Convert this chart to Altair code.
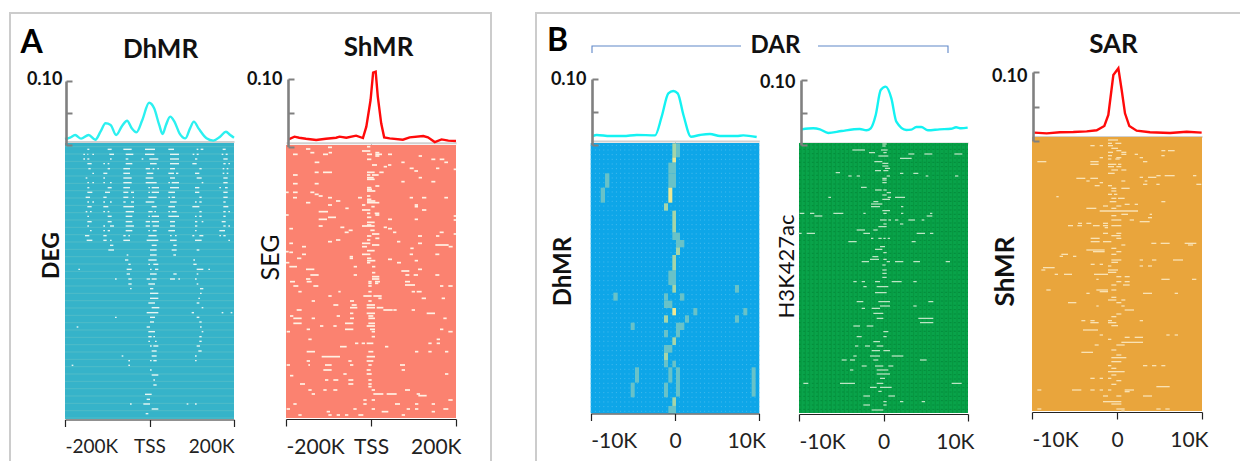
import altair as alt

FONT = "Lato"
W, H = 1232, 453

# ---- profile curves (position along the window, density) ----
P1_X = [-200,-188,-176,-162,-144,-128,-116,-104,-92,-79,-65,-53,-42,-31,-17,-1,11,23,31,39,49,59,71,85,96,105,116,135,151,167,181,191,200]
P1_Y = [.0094,.0115,.0156,.0099,.0156,.0083,.0208,.0339,.0313,.0156,.0297,.038,.026,.0198,.0391,.0661,.0573,.0313,.0172,.0313,.0443,.0365,.0182,.0104,.026,.0365,.026,.0104,.0068,.013,.0208,.0156,.0115]
P2_X = [-194,-180,-169,-153,-129,-106,-82,-74,-58,-35,-19,-11,-1,5,11,16,24,31,44,75,91,123,134,150,166,182,200]
P2_Y = [.0108,.0148,.0133,.0118,.0099,.0118,.0133,.0148,.0133,.0163,.0128,.0296,.069,.1094,.1109,.074,.0345,.0138,.0123,.0104,.0138,.0158,.0138,.0069,.0108,.0089,.0084]
P3_X = [-9.76,-9.29,-7.71,-6.13,-4.54,-2.37,-1.58,-.79,-.2,.32,1,1.9,2.97,4.15,5.34,7.31,8.1,9.69]
P3_Y = [.0136,.0152,.0136,.0136,.0152,.0146,.0429,.0783,.0818,.0783,.0455,.0126,.0152,.0167,.0136,.0136,.0146,.0121]
P4_X = [-9.69,-8.31,-7.52,-6.54,-4.97,-2.81,-2.02,-1.51,-.92,-.33,.26,.93,1.52,2.7,3.29,3.88,4.47,5.25,6.63,8.0,8.59,9.18,9.96]
P4_Y = [.0241,.0257,.0241,.0185,.0215,.0246,.0226,.0257,.0462,.0846,.0898,.0718,.0359,.0231,.0236,.0277,.0277,.0226,.0241,.0251,.0272,.0257,.0267]
P5_X = [-9.73,-8.27,-6.71,-5.14,-3.57,-2.39,-1.49,-1.02,-.43,.16,.55,.94,1.45,2.31,3.88,6.24,8.2,9.96]
P5_Y = [.0121,.0111,.0126,.013,.014,.0155,.0217,.0377,.0956,.1053,.0739,.0401,.0217,.015,.0126,.0116,.0135,.0121]

# ---- heat-map dashes: (row, start, stop, start, stop, ...) ----
DEG_DASHES = [
(28,82,88,143,155,190,215,255,285,325,342,410,415,422,430,488,497),
(43,70,75,82,85,97,102,148,162,197,220,255,283,330,357,398,403,410,416,485,490,497,503),
(57,70,75,82,88,150,155,197,205,245,250,268,295,330,357,405,412,490,503),
(71,82,95,130,135,143,148,197,217,270,290,330,357,397,410,490,497,505,510),
(86,85,92,143,150,190,210,257,270,278,283,292,297,330,345,418,425,488,493,500,505),
(100,97,102,130,142,190,210,260,280,325,342,348,355,405,418,488,493,500,505),
(114,77,82,130,135,190,215,257,280,330,345,410,425,490,503),
(128,82,87,97,102,130,135,150,155,190,215,257,290,325,330,335,357,425,430,490,503),
(143,82,88,143,155,190,210,265,270,275,297,330,357,405,418,478,483,495,503),
(157,82,97,135,150,190,205,213,222,265,270,275,297,325,345,405,418,490,503),
(172,77,90,130,140,190,205,218,222,265,290,325,330,335,345,418,425,490,503),
(186,82,87,97,102,130,135,150,155,190,197,213,222,257,283,330,350,405,410,418,425,490,497),
(200,82,95,130,145,190,222,275,290,325,345,397,418,490,505),
(215,77,82,90,95,130,135,143,148,197,222,265,278,283,288,325,330,335,350,418,425,490,497,505,510),
(229,82,87,143,155,197,217,265,270,275,297,325,357,405,410,418,425,490,497),
(245,82,95,143,155,197,217,257,270,275,297,330,345,405,412,425,430,485,497),
(258,82,87,130,135,150,162,197,222,257,270,278,297,330,345,405,412,490,497,505,510),
(272,90,95,130,135,143,150,197,217,265,270,278,290,325,345,405,410,478,495),
(287,75,88,130,140,190,197,205,210,265,290,330,335,345,350,397,403,418,430,478,483,490,497),
(301,80,97,130,140,150,155,190,210,260,295,330,350,405,425,505,510),
(316,150,160,275,290,340,350),
(330,145,162,270,290,335,350,410,418),
(345,200,205,270,290,340,348),
(360,195,205,265,290,400,405),
(373,205,212,265,270,280,295,400,410),
(388,55,60,200,215,270,275,285,295,410,430,445,450),
(402,200,210,270,290,340,350,410,415),
(417,165,170,205,215,260,270,275,290,330,345,355,360,405,410),
(432,205,215,265,285,410,415),
(446,210,215,270,280,420,430),
(460,270,295,420,425),
(475,270,295,415,420),
(489,265,285,410,418),
(503,275,298,425,430),
(518,260,295,395,402,485,490,512,517),
(532,165,170,270,285,410,418),
(546,270,282,418,425),
(561,50,55,260,270,420,425),
(575,265,285,425,430),
(590,265,275,280,285,418,425),
(604,265,270,285,290,418,425),
(618,270,275,280,295,410,420),
(633,275,290,415,425),
(648,185,190,275,290,405,410),
(662,205,210,270,275,280,290,405,410),
(676,35,40,205,210),
(690,270,275),
(705,275,295),
(720,280,285),
(735,280,290),
(763,255,275),
(778,260,270),
(792,210,215,250,270,380,385,405,410),
(807,275,295),
(821,257,265),
]
SEG_DASHES = [
(20,255,265),(22,138,150),(27,72,85),(33,240,265),(38,85,97,140,150,280,292),
(43,33,47,123,138,255,270,280,300,318,330),(48,280,292,410,420),(58,255,268,448,460,473,487),
(67,98,112,358,368,487,498),(75,270,285,318,328),(80,305,315),(85,383,395,462,472),(88,515,522),
(93,397,408),(97,98,110,123,150,255,278,292,305),(105,33,47,255,265,270,290),(113,255,275,410,420),
(118,255,278),(125,448,460,358,368),(131,33,47,98,110),(138,280,292),(143,255,268),(148,255,270),
(153,255,270,270,280),(157,12,20,33,47,85,97),(163,98,110),(168,110,122,255,265),
(173,33,45,138,150,228,240,383,393,420,433,487,498),(178,255,268),(183,162,175,255,280),
(188,72,85,255,292),(195,138,150,240,250,398,408),(200,268,278,398,408),(205,190,200),
(210,240,265,420,433),(215,110,138),(220,255,265,278,292),(225,12,20,280,292),(228,515,522),
(232,138,162,255,268),(238,110,135,318,330,398,408),(240,515,522),(247,255,278),(255,255,268),
(258,110,122,240,278),(262,175,187,305,315),(266,22,33,318,330),(271,200,212,265,278),
(277,188,200,333,343,473,485),(282,515,522,270,292),(288,408,420,462,472,255,268),(295,280,292),
(300,255,265,162,175),(305,138,150,345,355),(310,22,33,240,265,408,420),(315,270,292,460,500),
(320,60,72,240,255,500,512),(325,385,395),(332,255,278),(335,12,20),(337,22,33),
(343,60,72,383,393,460,472,240,265),(350,203,213),(355,203,213,45,58,255,268),(358,318,330),
(362,255,280,398,408),(368,12,22,345,357,255,265),(380,22,45,215,225,270,280),(388,72,97,408,420),
(393,358,382),(398,270,280),(405,85,110,215,225,395,408,370,382,460,472),(410,270,292),(417,72,85,270,292),
(425,24,39,74,89,259,269,279,294,369,384),(430,259,269,279,289),(435,369,399),
(438,34,49,94,109,259,269,474,484,499,512),(455,49,59,169,176,259,269,389,399,404,419),
(468,139,149,244,269,274,299),(475,289,299,419,432,479,489),(483,89,99,204,216,259,269),
(495,154,169,209,224,254,279),(503,204,226,254,279,284,304),(510,304,332,334,344,44,59,389,399),
(520,204,214,254,279,434,459),(528,24,34,164,174,259,274),(535,34,59,89,99,204,216,259,279,484,494),
(550,34,59,189,214,259,279),(558,114,124,154,164,254,279),(568,74,84,189,214,264,279,474,484),
(575,14,24,499,512,269,279),(590,269,279),(598,79,89,464,474),(610,219,229,239,249,254,274,439,449,464,474),
(620,174,194,309,319),(635,74,99,259,274,399,409,439,449,489,499),(650,119,174,254,279),
(663,74,84,199,209,254,274),(675,14,24,79,84,129,149,204,214,259,269,354,369),(690,124,149,359,369,254,266),
(702,184,194,254,269,489,499),(707,24,34),(720,129,139,154,169,199,214,259,269),(732,54,69,199,214,259,269),
(740,259,269),(750,79,89,124,134,154,166,269,279,369,384),(762,89,99,274,304,314,344,404,414),(767,409,434),
(780,244,254,269,279,499,512),(792,34,44,244,254,339,354,399,409,449,459),
(807,14,24,269,279,214,224,374,384,399,409,484,499),(815,134,144,299,319,449,459),
(825,49,59,139,149,164,174,189,199,229,244,359,369),
]
K27_DASHES = [
(12,262,275),(18,262,272),(30,172,210,258,278),(38,222,240,265,275),(42,388,412,478,502,340,358),(48,250,280),
(55,315,350),(65,238,262),(70,262,280),(78,262,280),(85,270,285),(92,240,258,265,280),(98,122,135),(100,315,325,355,370),
(108,160,170,185,195,275,285,392,400,480,490),(115,262,275),(120,262,275),(128,262,275),(142,198,215),(150,240,260,265,275),
(158,275,288),(165,262,275),(172,100,108,278,288,300,330),(178,262,285),(185,235,250),(192,228,262),(200,228,255,318,325),
(212,262,285),(220,14,28,45,58,115,145,205,212,265,275,318,325,405,412),(228,58,82,395,412),(240,255,275,280,288,300,310,340,360,380,388),
(252,265,275,315,325),(260,250,275),(270,185,210,235,248),(280,35,60,10,20,205,225,365,390,405,415),(295,228,235,250,260,265,272,278,285),
(305,160,185,350,362),(320,255,270),(328,240,262),(338,265,275),(350,232,250),(358,225,252,265,275),
(365,200,222,275,285,300,325,355,375,452,465),(375,262,272),(390,262,275),(400,262,275),(412,262,275),
(425,175,185,200,210,240,255,290,320,355,365),(440,205,215,245,280),(458,240,275),(485,185,205,250,285,400,415),
(498,255,285,355,365),(505,200,210,230,255),(520,235,265),(535,245,265,370,415),(548,375,415),(558,175,195,215,235),
(575,265,280),(590,185,200,265,275),(605,235,255),(618,180,190,210,225,245,265),(632,230,255,265,285),
(648,175,185,225,255,290,325),(660,140,155,165,180,235,250,375,395),(678,200,215,240,265,280,295),(690,165,175,245,280),
(702,245,285),(715,255,270),(730,25,40,135,180,245,265,470,500),(742,225,245,255,290),(754,250,260),(768,205,225,280,300),
(785,265,275,315,325,380,390),(795,205,225,265,275),(810,230,265),
]
SAR_DASHES = [
(15,240,270),(25,240,252,262,280),(32,187,200,215,225,240,255),(40,250,270),(47,265,280,400,412,420,440),(52,240,255,280,295),
(58,280,295,320,330),(62,240,252,400,410),(68,335,345,215,225,265,280),(72,240,250,262,275),(80,28,55,187,212,345,358),
(88,187,212,240,265,270,280),(95,240,258,265,280),(105,250,270,280,295),(115,240,260),(122,385,398,410,440,495,505),
(127,335,345,360,385),(130,145,172,187,210),(138,175,185,280,292,350,358),(143,215,225),(148,345,358,385,395,505,520),
(152,200,215,240,252),(160,280,305,250,265),(168,250,265),(178,240,252,258,268),(185,85,92),(190,250,265,270,290),
(200,245,265,400,412),(208,290,305,320,330),(213,225,240,265,280),(220,175,205,250,265),(228,215,330),(238,280,300,365,372),
(242,250,265),(248,360,372),(255,305,318,250,280),(260,335,365),(265,225,240,175,190,150,162),(272,120,135,148,162,195,215,225,240,250,280),
(278,230,240),(295,225,240,265,280),(302,250,278),(310,188,215,265,280),(320,188,215,225,250),(325,370,385,398,425,470,505),
(330,280,292,480,495),(340,250,265),(345,175,230),(350,195,230,265,280),(358,100,120,250,265),(364,95,105,135,145),
(375,250,280,335,345,372,385,435,465),(382,250,270),(388,188,200,215,225),(393,335,345,360,372,240,250),(398,45,80),
(405,40,52,240,270),(412,240,265),(418,108,132,198,240,80,90),(425,265,280,290,305),(433,205,212,400,425,492,505),
(440,265,280,290,305),(450,250,265,285,305),(465,205,240,250,265,55,68),(470,215,240),(475,345,372,440,450,175,185),
(487,250,265),(495,240,265,280,292),(503,120,145,265,280),(513,205,212,280,290),(525,290,318),(537,265,280),(545,250,265),
(557,160,172,187,200,240,252,335,345),(563,187,212,240,265),(572,250,270),(585,165,210),(600,215,225,415,425,440,450),
(607,290,305,320,345),(613,240,250),(622,280,345),(630,200,212,265,290),(645,250,265),(652,160,195),(660,265,280),(668,250,295),
(680,250,280),(692,240,250,345,358,372,385,400,412),(700,250,265),(710,240,290),(720,250,265),(730,187,200,215,225,240,250),
(737,265,280),(748,250,265),(755,385,425),(765,28,40,132,160,187,200,215,225,290,318,240,250),(770,290,305),
(783,225,240,265,280,345,372),(800,225,280),(807,250,280),(822,28,40,385,398,412,425,265,290),(828,280,290),
]
# (start, stop, top, bottom, tone) of the tinted blocks in the blue heat-map
DAR_BLOCKS = [
(427,438,430,472,"lime"),(438,450,430,472,"teal"),(427,438,472,488,"yellow"),(415,438,488,520,"teal"),(225,238,520,563,"teal"),
(415,438,520,563,"teal"),(212,225,563,608,"teal"),(415,427,563,608,"yellow"),(402,414,610,632,"lime"),(427,438,632,698,"lime"),
(427,450,698,720,"teal"),(438,463,720,742,"teal"),(438,450,742,765,"lime"),(427,438,765,812,"lime"),(415,438,812,855,"teal"),
(427,438,855,878,"lime"),(615,627,855,878,"teal"),(250,263,878,902,"teal"),(402,414,880,902,"teal"),(450,463,880,902,"teal"),
(402,427,902,924,"teal"),(427,438,924,946,"yellow"),(490,502,924,946,"teal"),(640,652,924,946,"teal"),(402,414,946,968,"lime"),
(465,477,946,968,"teal"),(615,627,946,968,"teal"),(302,314,968,990,"teal"),(438,463,968,990,"teal"),(402,414,990,1012,"teal"),
(438,450,990,1012,"teal"),(427,438,1012,1035,"lime"),(402,427,1035,1058,"teal"),(402,414,1058,1080,"lime"),(402,414,1080,1102,"teal"),
(427,438,1082,1102,"teal"),(315,327,1102,1148,"teal"),(415,427,1102,1148,"teal"),(438,450,1102,1190,"teal"),(665,677,1102,1190,"teal"),
(302,314,1148,1192,"teal"),(402,414,1148,1192,"teal"),(427,438,1192,1218,"lime"),(415,438,1218,1240,"teal"),
]


def q(field, **kw):
    return alt.X(field, type="quantitative", **kw)


def qy(field, **kw):
    return alt.Y(field, type="quantitative", **kw)


def chart(rows):
    return alt.Chart(alt.Data(values=rows))


def flatten(dashes):
    out = []
    for row in dashes:
        for i in range(1, len(row), 2):
            out.append({"row": row[0], "a": row[i], "b": row[i + 1]})
    return out


def panel(xs, ys, line_color, px, py, zx, zy, labels, heat_color, dash_color, dash_w,
          axis_x, top, bottom, base_y, axis_y, title, title_xy, side, side_xy, side_bold, side_size,
          value_label_dx, value_label_dy, label_size, label_pad, right_shift=0, dashes=None, blocks=None, overlay=None):
    """px/py: page extent of the heat map, zx/zy: its column and row domain."""
    layers = []
    xrange = [px[0] - 8, px[1] - 8]
    # heat background, with its axis and side label
    hx = alt.Scale(domain=zx, range=xrange, nice=False, zero=False)
    hy = alt.Scale(domain=zy, range=[py[0] - 8, py[1] - 8], nice=False, zero=False)
    mid = (zx[0] + zx[1]) / 2
    bg = chart([{"a": zx[0], "b": zx[1], "t": zy[0], "u": zy[1]}]).mark_rect(color=heat_color).encode(
        x=q("a", scale=hx, axis=alt.Axis(
            orient="bottom", offset=axis_y - 8 - H, values=[zx[0], mid, zx[1]], title=None, grid=False,
            labelExpr=f"datum.value < {mid - 1} ? '{labels[0]}' : datum.value > {mid + 1} ? '{labels[2]}' : '{labels[1]}'",
            labelFlush=True, labelFont=FONT, labelFontSize=label_size, labelColor="#222222", labelPadding=label_pad,
            labelOffset={"condition": {"test": f"datum.value > {mid + 1}", "value": right_shift}, "value": 0},
            labelOverlap=False, domainColor="#222222", domainWidth=1.2, tickColor="#222222", tickWidth=1.2, tickSize=7, zindex=1)),
        x2="b:Q",
        y=qy("t", scale=hy, axis=alt.Axis(
            orient="left", offset=0, labels=False, ticks=False, domain=False, grid=False, title=side,
            titleX=side_xy[0] - 8, titleY=side_xy[1] - 8, titleAngle=270, titleAlign="center", titleBaseline="middle",
            titleFont=FONT, titleFontSize=side_size, titleFontWeight="bold" if side_bold else "normal", titleColor="#111111")),
        y2="u:Q",
    )
    layers.append(bg)
    if overlay is not None:
        layers.extend(overlay(hx, hy, zx, zy))
    if blocks:
        rows = [{"a": b[0], "b": b[1], "t": b[2], "u": b[3], "tone": b[4]} for b in blocks]
        layers.append(chart(rows).mark_rect().encode(
            x=q("a", scale=hx, axis=None), x2="b:Q", y=qy("t", scale=hy, axis=None), y2="u:Q",
            color=alt.Color("tone:N", legend=None, scale=alt.Scale(
                domain=["teal", "lime", "yellow"], range=["#68c2c8", "#a6d5a8", "#eee892"]))))
    if dashes:
        layers.append(chart(flatten(dashes)).mark_rule(color=dash_color, strokeWidth=dash_w).encode(
            x=q("a", scale=hx, axis=None), x2="b:Q", y=qy("row", scale=hy, axis=None)))
    # profile curve
    rows = [{"p": a, "v": b} for a, b in zip(xs, ys)]
    lo, hi = labels[3], labels[4]
    layers.append(chart(rows).mark_line(color=line_color, strokeWidth=2.4, interpolate="monotone" if line_color != "#ff0a0a" else "linear").encode(
        x=q("p", scale=alt.Scale(domain=[lo, hi], range=xrange, nice=False, zero=False), axis=alt.Axis(
            orient="bottom", offset=base_y - 8 - H, values=[0], labels=False, tickColor="#bbbbbb", tickSize=2, tickWidth=1,
            domainColor="#d0d0d0", domainWidth=2, grid=False, title=title, titleX=title_xy[0] - 8, titleY=title_xy[1] - base_y,
            titleAlign="center", titleBaseline="middle", titleFont=FONT, titleFontSize=26, titleFontWeight="bold", titleColor="#111111")),
        y=qy("v", scale=alt.Scale(domain=[0, 0.1], range=[bottom - 8, top - 8], nice=False, zero=False), axis=alt.Axis(
            orient="right", offset=axis_x - 8 - W, values=[0, 0.05, 0.1], title=None, grid=False,
            labelExpr="datum.value > 0.09 ? '0.10' : ''", labelAlign="right", labelPadding=value_label_dx - 6,
            labelOffset=value_label_dy, labelBaseline="middle", labelFont=FONT, labelFontSize=18, labelFontWeight="bold", labelColor="#111111",
            domainColor="#808080", domainWidth=2.6, tickColor="#808080", tickWidth=2, tickSize=6, zindex=1)),
    ))
    return layers


def stripes(color, step, width):
    def make(hx, hy, zx, zy):
        rows = [{"row": r} for r in range(zy[0] + step // 2, zy[1], step)]
        return [chart(rows).transform_calculate(a=f"{zx[0]}", b=f"{zx[1]}").mark_rule(color=color, strokeWidth=width).encode(
            x=q("a", scale=hx, axis=None), x2="b:Q", y=qy("row", scale=hy, axis=None))]
    return make


def dots(color, xstep, ystep, dash, vcolor=None):
    def make(hx, hy, zx, zy):
        out = []
        rows = [{"row": r} for r in range(zy[0] + ystep // 2, zy[1], ystep)]
        out.append(chart(rows).transform_calculate(a=f"{zx[0]}", b=f"{zx[1]}").mark_rule(color=color, strokeWidth=1, strokeDash=dash).encode(
            x=q("a", scale=hx, axis=None), x2="b:Q", y=qy("row", scale=hy, axis=None)))
        if vcolor:
            cols = [{"col": c} for c in range(zx[0] + xstep // 2, zx[1], xstep)]
            out.append(chart(cols).transform_calculate(t=f"{zy[0]}", u=f"{zy[1]}").mark_rule(color=vcolor, strokeWidth=1).encode(
                x=q("col", scale=hx, axis=None), y=qy("t", scale=hy, axis=None), y2="u:Q"))
        return out
    return make


def frame(x_range, y_range, letter, letter_xy):
    return chart([{"a": 0, "b": 1, "t": 0, "u": 1}]).mark_rect(filled=False, stroke="#cccccc", strokeWidth=2).encode(
        x=q("a", scale=alt.Scale(domain=[0, 1], range=x_range, nice=False, zero=False), axis=alt.Axis(
            orient="top", offset=0, labels=False, ticks=False, domain=False, grid=False, title=letter,
            titleX=letter_xy[0] - 8, titleY=letter_xy[1] - 8, titleAlign="center", titleBaseline="middle",
            titleFont=FONT, titleFontSize=32, titleFontWeight="bold", titleColor="#000000")),
        x2="b:Q",
        y=qy("t", scale=alt.Scale(domain=[0, 1], range=y_range, nice=False, zero=False), axis=None),
        y2="u:Q",
    )


def bracket(x_range, y_range, pts, title=None, title_xy=None):
    rows = [{"i": i, "a": p[0], "t": p[1]} for i, p in enumerate(pts)]
    axis = alt.Axis(orient="top", offset=0, labels=False, ticks=False, domain=False, grid=False, title=title)
    if title:
        axis = alt.Axis(orient="top", offset=0, labels=False, ticks=False, domain=False, grid=False, title=title,
                        titleX=title_xy[0] - 8, titleY=title_xy[1] - 8, titleAlign="center", titleBaseline="middle",
                        titleFont=FONT, titleFontSize=24, titleFontWeight="bold", titleColor="#111111")
    return chart(rows).mark_line(color="#5f87c8", strokeWidth=1.1).encode(
        x=q("a", scale=alt.Scale(domain=[0, 1], range=x_range, nice=False, zero=False), axis=axis),
        y=qy("t", scale=alt.Scale(domain=[0, 1], range=y_range, nice=False, zero=False), axis=None),
        order=alt.Order("i:Q"),
    )


layers = [
    frame([2, 483], [5, 480], "A", (31, 42)),
    frame([528, 1260], [5, 480], "B", (557, 40)),
    bracket([584, 733], [38, 45], [(0, 1), (0, 0), (1, 0)], "DAR", (775, 45)),
    bracket([810, 940], [38, 45], [(0, 0), (1, 0), (1, 1)]),
]

layers += panel(P1_X, P1_Y, "#2cf0f0", (65, 234), (143, 419), [15, 522], [9, 837],
                ["-200K", "TSS", "200K", -200, 200], "#36b3c9", "#e6f6f4", 1.4,
                66, 81, 145, 141.5, 419.5, "DhMR", (160, 49), "DEG", (51, 255), True, 23,
                -4, -2, 19, 11, right_shift=0, dashes=DEG_DASHES, overlay=stripes("#50bcc8", 22, 1))
layers += panel(P2_X, P2_Y, "#ff0a0a", (286, 456), (145, 418), [12, 522], [15, 834],
                ["-200K", "TSS", "200K", -200, 200], "#fb8270", "#fff1e4", 1.7,
                288, 79, 146.7, 142.7, 419, "ShMR", (378, 47), "SEG", (270, 257), False, 25,
                -6, 0, 21, 10, right_shift=5, dashes=SEG_DASHES)
layers += panel(P3_X, P3_Y, "#14f2f2", (590.7, 759.3), (143, 413.3), [182, 688], [429, 1240],
                ["-10K", "0", "10K", -10, 10], "#0ea6e8", None, 1,
                592, 79, 145, 141, 413.5, None, (0, 0), "DhMR", (563, 271), True, 24,
                -6, 0, 21, 10, right_shift=6, blocks=DAR_BLOCKS, overlay=dots("#48bbee", 13, 14, [1, 3.2]))
layers += panel(P4_X, P4_Y, "#14f2f2", (799, 968), (143, 413), [12, 519], [9, 819],
                ["-10K", "0", "10K", -10, 10], "#09a34a", "#d5efd5", 1.1,
                801, 80, 145, 143, 414, None, (0, 0), "H3K427ac", (786, 266), False, 22,
                -6, 2, 21, 10, right_shift=6, dashes=K27_DASHES, overlay=dots("#048a3c", 13, 13, [2, 2.3], "#07963f"))
layers += panel(P5_X, P5_Y, "#ff0a0a", (1032, 1202), (137, 411), [12, 522], [6, 828],
                ["-10K", "0", "10K", -10, 10], "#e9a53c", "#f9e2b4", 1.3,
                1033, 72, 141, 136.5, 412, "SAR", (1113, 44), "ShMR", (1005, 271), True, 26,
                -6, 4, 21, 10, right_shift=6, dashes=SAR_DASHES)

out = alt.layer(*layers).resolve_scale(x="independent", y="independent", color="independent").properties(
    width=W, height=H, padding=0, autosize=alt.AutoSizeParams(type="none"),
).configure_view(stroke=None)

out.save("out.html", embed_options={"renderer": "svg", "actions": False})
